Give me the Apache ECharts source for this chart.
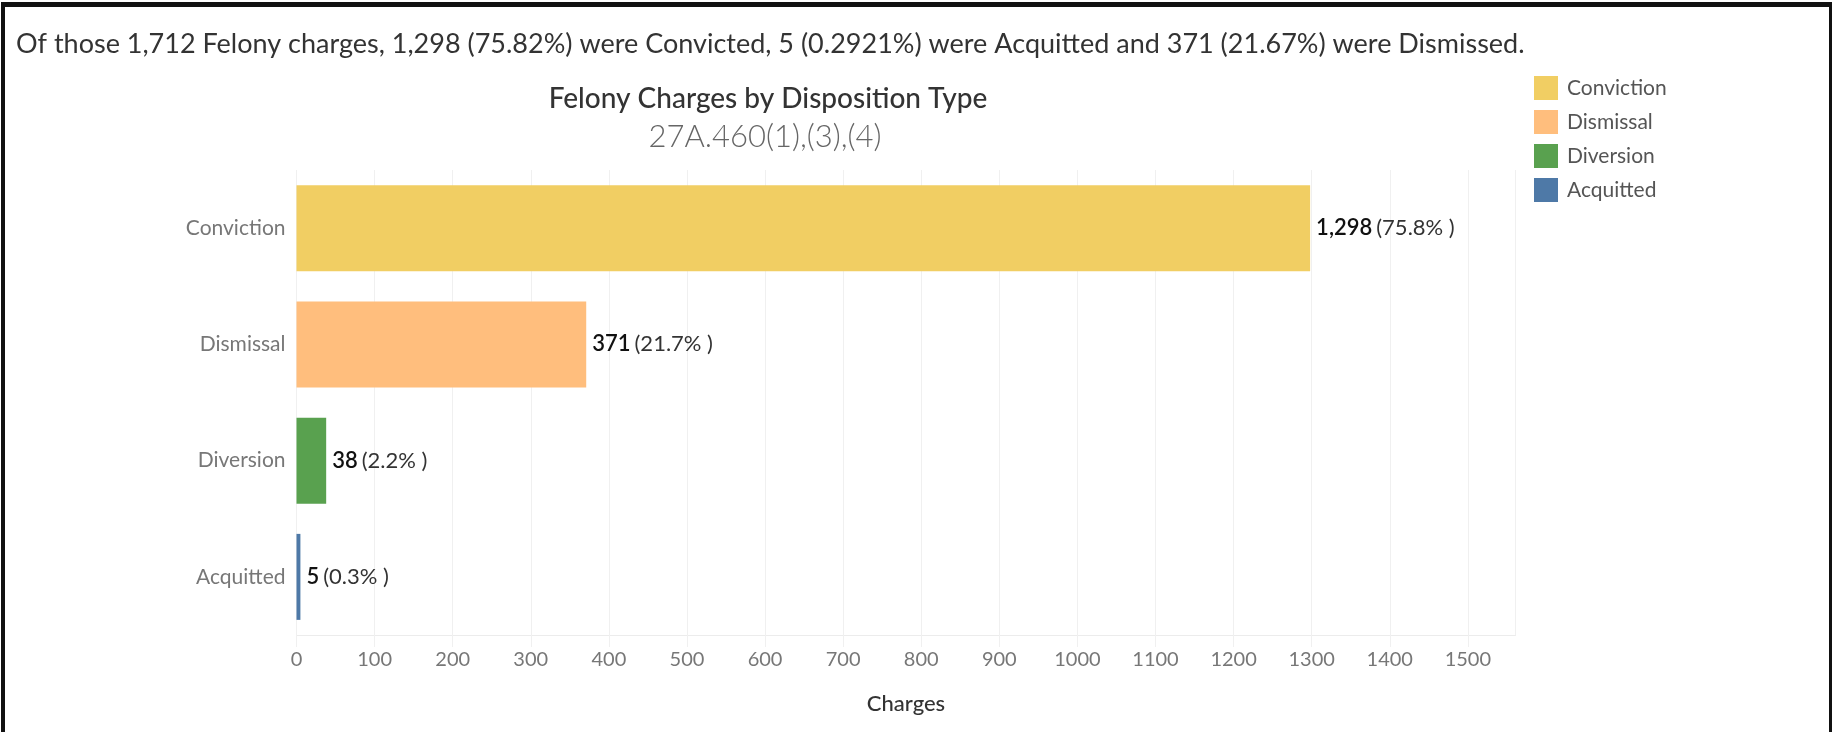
<!DOCTYPE html>
<html>
<head>
<meta charset="utf-8">
<script src="https://cdn.jsdelivr.net/npm/echarts@6/dist/echarts.min.js"></script>
<style>
  html, body { margin: 0; padding: 0; background: #fff; }
  #chart { width: 1835px; height: 732px; }
  #frame { position: absolute; left: 1px; top: 2px; width: 1824px; height: 760px;
           border-left: 4px solid #111; border-top: 5px solid #111; border-right: 3px solid #111; pointer-events: none; }
</style>
</head>
<body>
<div id="chart"></div>
<div id="frame"></div>
<script>
const categories = ['Conviction', 'Dismissal', 'Diversion', 'Acquitted'];
const values = [1298, 371, 38, 5];
const colors = ['#F1CE63', '#FFBE7D', '#59A14F', '#4E79A7'];
const xTicks = [0, 100, 200, 300, 400, 500, 600, 700, 800, 900, 1000, 1100, 1200, 1300, 1400, 1500];
const headline = 'Of those 1,712 Felony charges, 1,298 (75.82%) were Convicted, 5 (0.2921%) were Acquitted and 371 (21.67%) were Dismissed.';
const chartTitle = 'Felony Charges by Disposition Type';
const chartSubtitle = '27A.460(1),(3),(4)';

const total = values.reduce((a, b) => a + b, 0);
const FONT = 'Lato';

const chart = echarts.init(document.getElementById('chart'), null, { renderer: 'canvas' });

const series = categories.map((name, i) => ({
  name: name,
  type: 'bar',
  stack: 'all',
  barWidth: 86,
  itemStyle: { color: colors[i] },
  data: categories.map((c, j) => (j === i ? values[i] : '-')),
  label: {
    show: true,
    position: 'right',
    distance: 6,
    formatter: p => '{v|' + p.value.toLocaleString('en-US') + '}{p|(' + (p.value / total * 100).toFixed(1) + '% )}',
    rich: {
      v: { fontFamily: FONT, fontSize: 22, fontWeight: 600, color: '#111', padding: [0, 4, 0, 0] },
      p: { fontFamily: FONT, fontSize: 22, color: '#333' }
    }
  },
  emphasis: { disabled: true }
}));

chart.setOption({
  animation: false,
  textStyle: { fontFamily: FONT },
  title: [
    { text: headline, left: 11, top: 26, padding: 5, textStyle: { fontFamily: FONT, fontSize: 27, fontWeight: 'normal', color: '#333' } },
    { text: chartTitle, left: 763, textAlign: 'center', top: 80, textStyle: { fontFamily: FONT, fontSize: 28, fontWeight: 500, color: '#333' } },
    { text: chartSubtitle, left: 760, textAlign: 'center', top: 116, textStyle: { fontFamily: FONT, fontSize: 31, fontWeight: 300, color: '#666' } }
  ],
  legend: {
    orient: 'vertical',
    left: 1534,
    top: 76,
    padding: 0,
    itemWidth: 24,
    itemHeight: 24,
    itemGap: 10,
    icon: 'rect',
    data: categories,
    selectedMode: false,
    textStyle: { fontFamily: FONT, fontSize: 21, color: '#555', padding: [0, 0, 0, 4] }
  },
  grid: { left: 296.5, right: 319.5, top: 170, bottom: 97, containLabel: false },
  xAxis: {
    type: 'value',
    min: 0,
    max: 1561,
    interval: 100,
    name: 'Charges',
    nameLocation: 'middle',
    nameGap: 58,
    nameTextStyle: { fontFamily: FONT, fontSize: 22, fontWeight: 500, color: '#333' },
    axisLine: { show: true, lineStyle: { color: '#ececec', width: 1 } },
    axisTick: { show: true, length: 12, lineStyle: { color: '#f0f0f0' } },
    splitLine: { show: true, lineStyle: { color: '#f0f0f0', width: 1 } },
    axisLabel: {
      fontFamily: FONT, fontSize: 20, color: '#777', margin: 15,
      showMaxLabel: false,
      formatter: v => (xTicks.indexOf(v) >= 0 ? String(v) : '')
    }
  },
  yAxis: {
    type: 'category',
    inverse: true,
    data: categories,
    axisLine: { show: false },
    axisTick: { show: false },
    splitLine: { show: false },
    axisLabel: { fontFamily: FONT, fontSize: 21, color: '#777', margin: 11 }
  },
  series: series
});
</script>
</body>
</html>
